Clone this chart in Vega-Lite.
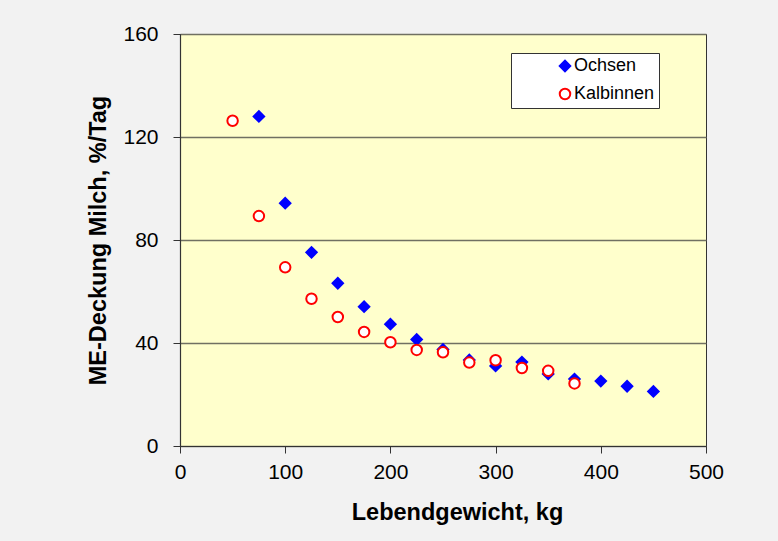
{
  "$schema": "https://vega.github.io/schema/vega-lite/v6.json",
  "width": 526,
  "height": 412,
  "autosize": {"type": "none"},
  "padding": {"left": 180, "top": 34, "right": 72, "bottom": 95},
  "background": "#F2F2F2",
  "config": {
    "font": "Liberation Sans",
    "view": {"fill": "#FFFFCC", "stroke": "#333333", "strokeWidth": 1}
  },
  "data": {
    "values": [
      {"Gewicht": 75, "Deckung": 128, "Gruppe": "Ochsen"},
      {"Gewicht": 100, "Deckung": 94.3, "Gruppe": "Ochsen"},
      {"Gewicht": 125, "Deckung": 75.2, "Gruppe": "Ochsen"},
      {"Gewicht": 150, "Deckung": 63.2, "Gruppe": "Ochsen"},
      {"Gewicht": 175, "Deckung": 54.1, "Gruppe": "Ochsen"},
      {"Gewicht": 200, "Deckung": 47.3, "Gruppe": "Ochsen"},
      {"Gewicht": 225, "Deckung": 41.4, "Gruppe": "Ochsen"},
      {"Gewicht": 250, "Deckung": 37.5, "Gruppe": "Ochsen"},
      {"Gewicht": 275, "Deckung": 33.4, "Gruppe": "Ochsen"},
      {"Gewicht": 300, "Deckung": 31.1, "Gruppe": "Ochsen"},
      {"Gewicht": 325, "Deckung": 32.6, "Gruppe": "Ochsen"},
      {"Gewicht": 350, "Deckung": 28.0, "Gruppe": "Ochsen"},
      {"Gewicht": 375, "Deckung": 26.0, "Gruppe": "Ochsen"},
      {"Gewicht": 400, "Deckung": 25.2, "Gruppe": "Ochsen"},
      {"Gewicht": 425, "Deckung": 23.2, "Gruppe": "Ochsen"},
      {"Gewicht": 450, "Deckung": 21.2, "Gruppe": "Ochsen"},
      {"Gewicht": 50, "Deckung": 126.3, "Gruppe": "Kalbinnen"},
      {"Gewicht": 75, "Deckung": 89.3, "Gruppe": "Kalbinnen"},
      {"Gewicht": 100, "Deckung": 69.4, "Gruppe": "Kalbinnen"},
      {"Gewicht": 125, "Deckung": 57.2, "Gruppe": "Kalbinnen"},
      {"Gewicht": 150, "Deckung": 50.1, "Gruppe": "Kalbinnen"},
      {"Gewicht": 175, "Deckung": 44.3, "Gruppe": "Kalbinnen"},
      {"Gewicht": 200, "Deckung": 40.3, "Gruppe": "Kalbinnen"},
      {"Gewicht": 225, "Deckung": 37.3, "Gruppe": "Kalbinnen"},
      {"Gewicht": 250, "Deckung": 36.4, "Gruppe": "Kalbinnen"},
      {"Gewicht": 275, "Deckung": 32.4, "Gruppe": "Kalbinnen"},
      {"Gewicht": 300, "Deckung": 33.3, "Gruppe": "Kalbinnen"},
      {"Gewicht": 325, "Deckung": 30.3, "Gruppe": "Kalbinnen"},
      {"Gewicht": 350, "Deckung": 29.2, "Gruppe": "Kalbinnen"},
      {"Gewicht": 375, "Deckung": 24.3, "Gruppe": "Kalbinnen"}
    ]
  },
  "mark": {"type": "point", "filled": false, "size": 110, "strokeWidth": 2, "opacity": 1},
  "encoding": {
    "x": {
      "field": "Gewicht",
      "type": "quantitative",
      "scale": {"domain": [0, 500], "nice": false, "zero": false},
      "axis": {
        "values": [0, 100, 200, 300, 400, 500],
        "grid": false,
        "labelFlush": false,
        "domainColor": "#333333",
        "domainWidth": 1.2,
        "tickColor": "#333333",
        "tickSize": 7,
        "labelFontSize": 21,
        "labelColor": "#000000",
        "labelPadding": 8,
        "title": "Lebendgewicht, kg",
        "titleFontSize": 23.5,
        "titleFontWeight": "bold",
        "titleColor": "#000000",
        "titlePadding": 18,
        "titleX": 277
      }
    },
    "y": {
      "field": "Deckung",
      "type": "quantitative",
      "scale": {"domain": [0, 160], "nice": false, "zero": true},
      "axis": {
        "values": [0, 40, 80, 120, 160],
        "grid": true,
        "gridColor": "#707062",
        "gridWidth": 1.3,
        "domainColor": "#333333",
        "domainWidth": 1.2,
        "tickColor": "#333333",
        "tickSize": 7,
        "labelFontSize": 21,
        "labelColor": "#000000",
        "labelPadding": 15,
        "title": "ME-Deckung Milch, %/Tag",
        "titleFontSize": 23.5,
        "titleFontWeight": "bold",
        "titleColor": "#000000",
        "titlePadding": 12
      }
    },
    "shape": {
      "field": "Gruppe",
      "type": "nominal",
      "scale": {"domain": ["Ochsen", "Kalbinnen"], "range": ["diamond", "circle"]},
      "legend": {
        "title": null,
        "orient": "none",
        "legendX": 331,
        "legendY": 19,
        "fillColor": "#FFFFFF",
        "strokeColor": "#333333",
        "padding": 4,
        "symbolOffset": 41,
        "symbolSize": 110,
        "symbolStrokeWidth": 2,
        "labelFontSize": 18,
        "labelColor": "#000000",
        "labelOffset": 0,
        "rowPadding": 8,
        "encode": {
          "legend": {"update": {"width": {"value": 183}, "height": {"value": 53}}}
        }
      }
    },
    "fill": {
      "field": "Gruppe",
      "type": "nominal",
      "scale": {"domain": ["Ochsen", "Kalbinnen"], "range": ["#0000FF", "#FFFFFF"]}
    },
    "stroke": {
      "field": "Gruppe",
      "type": "nominal",
      "scale": {"domain": ["Ochsen", "Kalbinnen"], "range": ["#0000FF", "#FF0000"]}
    }
  }
}
